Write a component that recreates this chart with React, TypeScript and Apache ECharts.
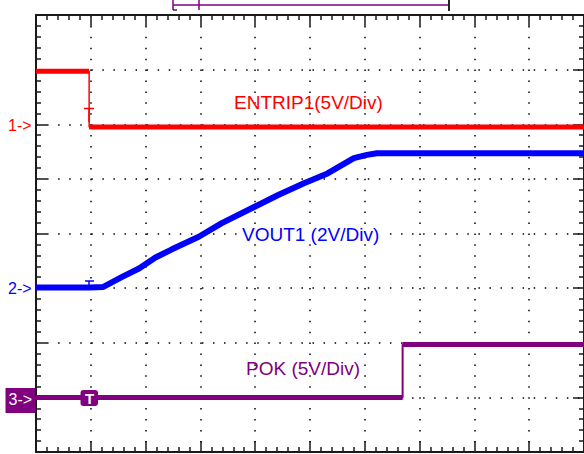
import React, { useEffect, useRef } from "react";
import * as echarts from "echarts";

// time in divisions (0..10), level in divisions (-4..4, centre = 0)
const entripTime = [0, 0.97, 0.97, 10];
const entripLevel = [2.97, 2.97, 1.95, 1.95];
const voutTime = [0, 0.98, 1.22, 1.58, 1.88, 2.18, 2.48, 2.97, 3.39, 3.99, 4.41, 4.89, 5.32, 5.8, 6.04, 6.22, 10];
const voutLevel = [-0.99, -0.99, -0.98, -0.79, -0.64, -0.44, -0.29, -0.06, 0.19, 0.49, 0.7, 0.92, 1.1, 1.38, 1.44, 1.47, 1.47];
const pokTime = [0, 6.69, 6.69, 10];
const pokLevel = [-3.0, -3.0, -2.03, -2.03];

const traceNames = ["ENTRIP1", "VOUT1", "POK"];
const traceLabels = ["ENTRIP1(5V/Div)", "VOUT1 (2V/Div)", "POK (5V/Div)"];
const channelMarks = ["1->", "2->", "3->"];

const RED = "#ff0000";
const BLUE = "#0000ff";
const PURPLE = "#800080";
const AXIS = "#1a1a1a";

function pairs(t: number[], v: number[]) {
  return t.map((x, i) => [x, v[i]]);
}
function thickPairs(t: number[], v: number[]) {
  const out: any[] = [];
  t.forEach((x, i) => {
    if (i > 0 && x === t[i - 1]) out.push([x, "-"]);
    out.push([x, v[i]]);
  });
  return out;
}

export default function App() {
  const ref = useRef<HTMLDivElement>(null);
  useEffect(() => {
    if (!ref.current) return;
    const chart = echarts.init(ref.current, null, { renderer: "svg" });
    const tickCommon = {
      axisLine: { show: true, onZero: false, lineStyle: { color: AXIS, width: 2 } },
      axisTick: { show: true, inside: true, length: 11, lineStyle: { color: AXIS, width: 1.5 } },
      minorTick: { show: true, splitNumber: 5, length: 5, lineStyle: { color: AXIS, width: 1.5 } },
      axisLabel: { show: false },
    };
    const traceSeries = (
      name: string,
      t: number[],
      v: number[],
      color: string,
      thin: number,
      thick: number
    ) => [
      {
        name,
        type: "line",
        data: pairs(t, v),
        symbol: "none",
        lineStyle: { color, width: thin },
        z: 3,
      },
      {
        name,
        type: "line",
        data: thickPairs(t, v),
        symbol: "none",
        connectNulls: false,
        lineStyle: { color, width: thick, cap: "butt" },
        z: 3,
      },
    ];
    const font = "Liberation Sans, Arial, sans-serif";
    chart.setOption({
      animation: false,
      backgroundColor: "#ffffff",
      grid: { left: 36, top: 15, width: 553, height: 437 },
      xAxis: [
        {
          type: "value",
          min: 0,
          max: 10,
          interval: 1,
          position: "top",
          ...tickCommon,
          splitLine: { show: true, lineStyle: { color: "#000", width: 1.5, type: [1.5, 9.42] } },
        },
        { type: "value", min: 0, max: 10, interval: 1, position: "bottom", ...tickCommon, splitLine: { show: false } },
      ],
      yAxis: [
        {
          type: "value",
          min: -4,
          max: 4,
          interval: 1,
          position: "left",
          ...tickCommon,
          splitLine: { show: true, lineStyle: { color: "#000", width: 1.5, type: [1.5, 9.56] } },
        },
        { type: "value", min: -4, max: 4, interval: 1, position: "right", ...tickCommon, splitLine: { show: false } },
      ],
      series: [
        ...traceSeries(traceNames[0], entripTime, entripLevel, RED, 1.5, 5),
        ...traceSeries(traceNames[1], voutTime, voutLevel, BLUE, 1.5, 6),
        ...traceSeries(traceNames[2], pokTime, pokLevel, PURPLE, 2, 5),
      ],
      graphic: [
        // top bracket
        { type: "line", shape: { x1: 173, y1: 5, x2: 449, y2: 5 }, style: { stroke: PURPLE, lineWidth: 1.5 } },
        { type: "line", shape: { x1: 173, y1: 0, x2: 173, y2: 10 }, style: { stroke: PURPLE, lineWidth: 1.5 } },
        { type: "line", shape: { x1: 173, y1: 10, x2: 177, y2: 10 }, style: { stroke: "#000", lineWidth: 1.2 } },
        { type: "line", shape: { x1: 199, y1: 0, x2: 199, y2: 10 }, style: { stroke: PURPLE, lineWidth: 1.5 } },
        { type: "line", shape: { x1: 449, y1: 0, x2: 449, y2: 11 }, style: { stroke: "#222", lineWidth: 2 } },
        // trigger marks
        { type: "line", z: 10, shape: { x1: 84, y1: 108.5, x2: 94, y2: 108.5 }, style: { stroke: RED, lineWidth: 1.5 } },
        { type: "line", z: 10, shape: { x1: 89, y1: 108.5, x2: 89, y2: 122 }, style: { stroke: RED, lineWidth: 1.5 } },
        { type: "line", z: 10, shape: { x1: 85, y1: 281, x2: 94, y2: 281 }, style: { stroke: BLUE, lineWidth: 1.5 } },
        { type: "line", z: 10, shape: { x1: 89, y1: 281, x2: 89, y2: 287 }, style: { stroke: BLUE, lineWidth: 1.5 } },
        { type: "rect", shape: { x: 80.5, y: 390, width: 17.5, height: 16, r: 3 }, style: { fill: PURPLE }, z: 10 },
        {
          type: "text",
          x: 89.5,
          y: 398.5,
          z: 11,
          style: { text: "T", fill: "#fff", font: `bold 15px ${font}`, align: "center", verticalAlign: "middle" },
        },
        // channel markers
        {
          type: "text",
          x: 8,
          y: 125,
          z: 10,
          style: { text: channelMarks[0], fill: RED, font: `16px ${font}`, verticalAlign: "middle" },
        },
        {
          type: "text",
          x: 8,
          y: 288,
          z: 10,
          style: { text: channelMarks[1], fill: BLUE, font: `16px ${font}`, verticalAlign: "middle" },
        },
        { type: "rect", shape: { x: 5.5, y: 388, width: 30, height: 25 }, style: { fill: PURPLE }, z: 10 },
        {
          type: "text",
          x: 8.5,
          y: 399.5,
          z: 11,
          style: { text: channelMarks[2], fill: "#fff", font: `16px ${font}`, verticalAlign: "middle" },
        },
        // trace labels
        {
          type: "text",
          x: 234,
          y: 102,
          z: 10,
          style: { text: traceLabels[0], fill: RED, font: `19px ${font}`, verticalAlign: "middle" },
        },
        {
          type: "text",
          x: 241,
          y: 234,
          z: 10,
          style: {
            text: traceLabels[1],
            fill: BLUE,
            font: `19px ${font}`,
            verticalAlign: "middle",
            backgroundColor: "#fff",
            padding: [0, 2, 0, 1],
          },
        },
        {
          type: "text",
          x: 246,
          y: 368,
          z: 10,
          style: { text: traceLabels[2], fill: PURPLE, font: `19px ${font}`, verticalAlign: "middle" },
        },
      ],
    });
    return () => chart.dispose();
  }, []);
  return (
    <div
      ref={ref}
      style={{ position: "fixed", left: 0, top: 0, width: 584, height: 454, background: "#fff" }}
    />
  );
}
